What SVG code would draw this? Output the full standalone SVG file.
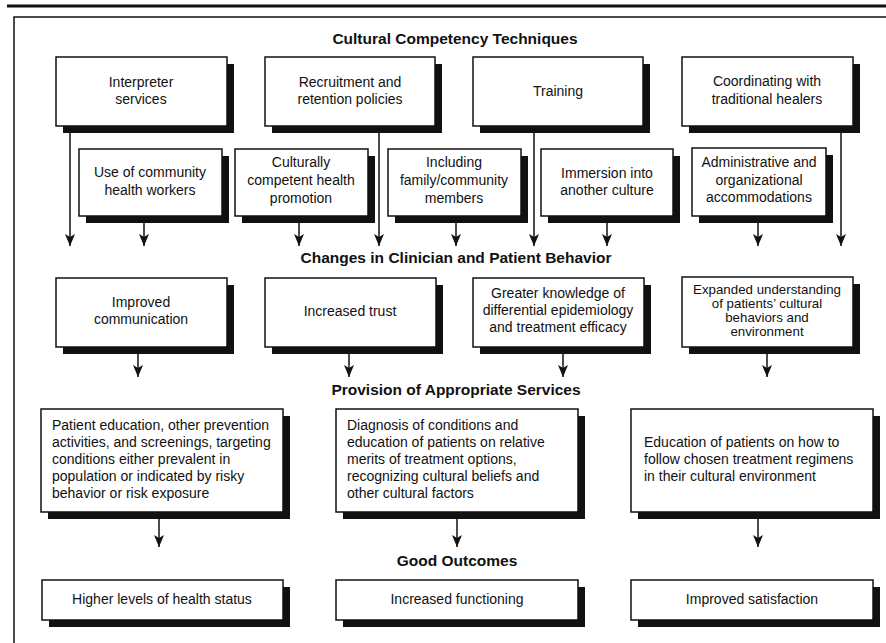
<svg xmlns="http://www.w3.org/2000/svg" width="886" height="643" viewBox="0 0 886 643">
<style>
.sh{fill:#111}
.bx{fill:#fff;stroke:#111;stroke-width:1.5}
.t{font-family:"Liberation Sans",Arial,sans-serif;font-size:14px;fill:#111;text-anchor:middle}
.s{font-family:"Liberation Sans",Arial,sans-serif;font-size:13.3px;fill:#111;text-anchor:middle}
.l{font-family:"Liberation Sans",Arial,sans-serif;font-size:14px;fill:#111}
.h{font-family:"Liberation Sans",Arial,sans-serif;font-size:15.5px;font-weight:bold;fill:#111;text-anchor:middle}
.c{stroke:#111;stroke-width:1.5;fill:none;marker-end:url(#ah)}
</style>
<defs>
<marker id="ah" markerUnits="userSpaceOnUse" markerWidth="13" markerHeight="10" refX="12" refY="5" orient="auto" viewBox="0 0 13 10">
<path d="M0,0 L12,5 L0,10 L3,5 Z" fill="#111"/>
</marker>
</defs>
<rect width="886" height="643" fill="#fff"/>
<line x1="7" y1="6" x2="886" y2="6" stroke="#111" stroke-width="3"/>
<path d="M14,643 V17 H886" fill="none" stroke="#111" stroke-width="1.5"/>

<text class="h" x="455" y="44">Cultural Competency Techniques</text>
<text class="h" x="456" y="263">Changes in Clinician and Patient Behavior</text>
<text class="h" x="456" y="395">Provision of Appropriate Services</text>
<text class="h" x="457" y="566">Good Outcomes</text>

<g id="connectors">
<path class="c" d="M70,126 V246"/>
<path class="c" d="M144,222 V246"/>
<path class="c" d="M299,222 V246"/>
<path class="c" d="M379,132 V246"/>
<path class="c" d="M456,222 V246"/>
<path class="c" d="M534,132 V246"/>
<path class="c" d="M607,222 V246"/>
<path class="c" d="M758,222 V246"/>
<path class="c" d="M841,132 V246"/>
<path class="c" d="M138,353 V377"/>
<path class="c" d="M349,353 V377"/>
<path class="c" d="M563,353 V377"/>
<path class="c" d="M767,353 V377"/>
<path class="c" d="M159,519 V547"/>
<path class="c" d="M457,519 V547"/>
<path class="c" d="M758,519 V547"/>
</g>

<g id="interpreter">
<rect class="sh" x="63" y="64" width="171" height="69"/>
<rect class="bx" x="56" y="57" width="171" height="69"/>
<text class="t" x="141" y="87">Interpreter</text>
<text class="t" x="141" y="104">services</text>
</g>
<g id="recruitment">
<rect class="sh" x="272" y="64" width="170" height="69"/>
<rect class="bx" x="265" y="57" width="170" height="69"/>
<text class="t" x="350" y="87">Recruitment and</text>
<text class="t" x="350" y="104">retention policies</text>
</g>
<g id="training">
<rect class="sh" x="480" y="64" width="170" height="69"/>
<rect class="bx" x="473" y="57" width="170" height="69"/>
<text class="t" x="558" y="96">Training</text>
</g>
<g id="coordinating">
<rect class="sh" x="689" y="64" width="171" height="69"/>
<rect class="bx" x="682" y="57" width="171" height="69"/>
<text class="t" x="767" y="86">Coordinating with</text>
<text class="t" x="767" y="104">traditional healers</text>
</g>

<g id="community-workers">
<rect class="sh" x="86" y="156" width="143" height="67"/>
<rect class="bx" x="79" y="149" width="143" height="67"/>
<text class="t" x="150" y="177">Use of community</text>
<text class="t" x="150" y="195">health workers</text>
</g>
<g id="health-promotion">
<rect class="sh" x="242" y="156" width="133" height="67"/>
<rect class="bx" x="235" y="149" width="133" height="67"/>
<text class="t" x="301" y="167">Culturally</text>
<text class="t" x="301" y="185">competent health</text>
<text class="t" x="301" y="203">promotion</text>
</g>
<g id="family-members">
<rect class="sh" x="395" y="156" width="133" height="67"/>
<rect class="bx" x="388" y="149" width="133" height="67"/>
<text class="t" x="454" y="167">Including</text>
<text class="t" x="454" y="185">family/community</text>
<text class="t" x="454" y="203">members</text>
</g>
<g id="immersion">
<rect class="sh" x="548" y="156" width="132" height="67"/>
<rect class="bx" x="541" y="149" width="132" height="67"/>
<text class="t" x="607" y="178">Immersion into</text>
<text class="t" x="607" y="195">another culture</text>
</g>
<g id="administrative">
<rect class="sh" x="699" y="155" width="134" height="68"/>
<rect class="bx" x="692" y="148" width="134" height="68"/>
<text class="t" x="759" y="167">Administrative and</text>
<text class="t" x="759" y="185">organizational</text>
<text class="t" x="759" y="202">accommodations</text>
</g>

<g id="improved-communication">
<rect class="sh" x="63" y="285" width="171" height="69"/>
<rect class="bx" x="56" y="278" width="171" height="69"/>
<text class="t" x="141" y="307">Improved</text>
<text class="t" x="141" y="324">communication</text>
</g>
<g id="increased-trust">
<rect class="sh" x="272" y="285" width="171" height="69"/>
<rect class="bx" x="265" y="278" width="171" height="69"/>
<text class="t" x="350" y="316">Increased trust</text>
</g>
<g id="greater-knowledge">
<rect class="sh" x="480" y="285" width="171" height="69"/>
<rect class="bx" x="473" y="278" width="171" height="69"/>
<text class="t" x="558" y="298">Greater knowledge of</text>
<text class="t" x="558" y="315">differential epidemiology</text>
<text class="t" x="558" y="332">and treatment efficacy</text>
</g>
<g id="expanded-understanding">
<rect class="sh" x="689" y="284" width="171" height="70"/>
<rect class="bx" x="682" y="277" width="171" height="70"/>
<text class="s" x="767" y="294">Expanded understanding</text>
<text class="s" x="767" y="308">of patients’ cultural</text>
<text class="s" x="767" y="322">behaviors and</text>
<text class="s" x="767" y="336">environment</text>
</g>

<g id="patient-education">
<rect class="sh" x="48" y="416" width="242" height="103"/>
<rect class="bx" x="41" y="409" width="242" height="103"/>
<text class="l" x="52" y="430">Patient education, other prevention</text>
<text class="l" x="52" y="447">activities, and screenings, targeting</text>
<text class="l" x="52" y="464">conditions either prevalent in</text>
<text class="l" x="52" y="481">population or indicated by risky</text>
<text class="l" x="52" y="498">behavior or risk exposure</text>
</g>
<g id="diagnosis">
<rect class="sh" x="343" y="416" width="242" height="103"/>
<rect class="bx" x="336" y="409" width="242" height="103"/>
<text class="l" x="347" y="430">Diagnosis of conditions and</text>
<text class="l" x="347" y="447">education of patients on relative</text>
<text class="l" x="347" y="464">merits of treatment options,</text>
<text class="l" x="347" y="481">recognizing cultural beliefs and</text>
<text class="l" x="347" y="498">other cultural factors</text>
</g>
<g id="treatment-education">
<rect class="sh" x="638" y="416" width="242" height="103"/>
<rect class="bx" x="631" y="409" width="242" height="103"/>
<text class="l" x="644" y="447">Education of patients on how to</text>
<text class="l" x="644" y="464">follow chosen treatment regimens</text>
<text class="l" x="644" y="481">in their cultural environment</text>
</g>

<g id="health-status">
<rect class="sh" x="49" y="587" width="241" height="40"/>
<rect class="bx" x="42" y="580" width="241" height="40"/>
<text class="t" x="162" y="604">Higher levels of health status</text>
</g>
<g id="functioning">
<rect class="sh" x="343" y="587" width="242" height="40"/>
<rect class="bx" x="336" y="580" width="242" height="40"/>
<text class="t" x="457" y="604">Increased functioning</text>
</g>
<g id="satisfaction">
<rect class="sh" x="638" y="587" width="242" height="40"/>
<rect class="bx" x="631" y="580" width="242" height="40"/>
<text class="t" x="752" y="604">Improved satisfaction</text>
</g>
</svg>
